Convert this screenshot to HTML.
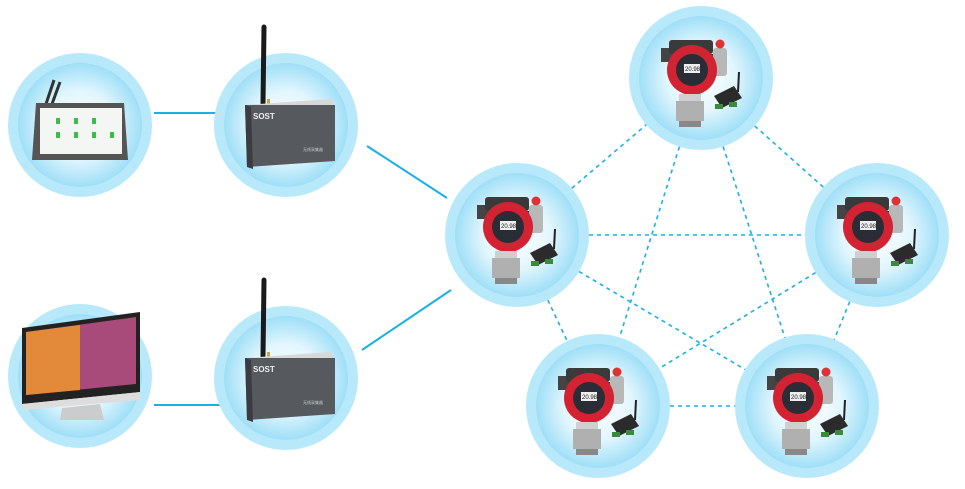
<!DOCTYPE html>
<html><head><meta charset="utf-8"><style>html,body{margin:0;padding:0;background:#fff;width:965px;height:489px;overflow:hidden}</style></head>
<body>
<svg width="965" height="489" viewBox="0 0 965 489" xmlns="http://www.w3.org/2000/svg" font-family="Liberation Sans, sans-serif">
<defs>
<radialGradient id="rg" cx="50%" cy="50%" r="50%">
<stop offset="0" stop-color="#ffffff"/><stop offset="0.55" stop-color="#e2f6fd"/><stop offset="1" stop-color="#9fdff7"/>
</radialGradient>
<g id="bub"><circle r="72" fill="#b8e9fa"/><circle r="62" fill="url(#rg)"/></g>
<g id="gw">
<line x1="-23" y1="-98" x2="-24" y2="-22" stroke="#1a1a1a" stroke-width="5" stroke-linecap="round"/>
<rect x="-20" y="-26" width="3" height="8" fill="#c9a54a"/>
<polygon points="-42,-20 44,-26 48,-18 -40,-12" fill="#d8d8d8"/>
<polygon points="-42,-20 48,-20 48,36 -40,42" fill="#56595e"/>
<polygon points="-42,-20 -36,-18 -34,44 -40,42" fill="#3a3c40"/>
<text x="-34" y="-6" font-size="8" font-weight="bold" fill="#eee">SOST</text>
<text x="16" y="26" font-size="4" fill="#ccc">无线采集器</text>
</g>
<g id="det">
<rect x="-40" y="-30" width="12" height="14" fill="#444"/>
<rect x="-32" y="-38" width="44" height="14" rx="3" fill="#3a3a3a"/>
<rect x="4" y="-24" width="12" height="10" fill="#444"/>
<rect x="12" y="-30" width="14" height="28" rx="3" fill="#b8b8b8"/>
<circle cx="19" cy="-34" r="4.5" fill="#d33"/>
<circle cx="-9" cy="-8" r="25" fill="#d32232"/>
<circle cx="-9" cy="-8" r="16" fill="#2a2d35"/>
<rect x="-17" y="-14" width="16" height="9" fill="#eee"/>
<text x="-16" y="-7" font-size="6" fill="#222">20.98</text>
<rect x="-22" y="16" width="22" height="7" fill="#cfcfcf"/>
<rect x="-25" y="23" width="28" height="20" fill="#b0b0b0"/>
<rect x="-22" y="43" width="22" height="6" fill="#888"/>
<line x1="38" y1="-6" x2="37" y2="14" stroke="#222" stroke-width="2"/>
<polygon points="13,18 33,8 41,20 21,30" fill="#2b2b2b"/>
<rect x="14" y="26" width="8" height="5" fill="#3a8a3a"/>
<rect x="28" y="24" width="8" height="5" fill="#3a8a3a"/>
</g>
</defs>

<g stroke="#1ab0e6" stroke-width="2" fill="none">
<line x1="154" y1="113" x2="225" y2="113"/>
<line x1="154" y1="405" x2="225" y2="405"/>
<line x1="367" y1="146" x2="447" y2="198"/>
<line x1="362" y1="350" x2="451" y2="290"/>
</g>
<g stroke="#1ab0e6" stroke-width="1.6" stroke-dasharray="4,4" fill="none">
<line x1="517" y1="235" x2="701" y2="78"/>
<line x1="517" y1="235" x2="877" y2="235"/>
<line x1="517" y1="235" x2="598" y2="406"/>
<line x1="517" y1="235" x2="807" y2="406"/>
<line x1="701" y1="78" x2="877" y2="235"/>
<line x1="701" y1="78" x2="598" y2="406"/>
<line x1="701" y1="78" x2="807" y2="406"/>
<line x1="877" y1="235" x2="598" y2="406"/>
<line x1="877" y1="235" x2="807" y2="406"/>
<line x1="598" y1="406" x2="807" y2="406"/>
</g>

<use href="#bub" x="80" y="125"/>
<use href="#bub" x="286" y="125"/>
<use href="#bub" x="80" y="376"/>
<use href="#bub" x="286" y="378"/>
<use href="#bub" x="701" y="78"/>
<use href="#bub" x="517" y="235"/>
<use href="#bub" x="877" y="235"/>
<use href="#bub" x="598" y="406"/>
<use href="#bub" x="807" y="406"/>

<!-- tablet -->
<g>
<line x1="46" y1="104" x2="54" y2="80" stroke="#333" stroke-width="3"/>
<line x1="52" y1="104" x2="60" y2="82" stroke="#333" stroke-width="3"/>
<polygon points="36,103 124,103 128,160 32,160" fill="#555"/>
<rect x="40" y="108" width="82" height="46" fill="#f4f6f4"/>
<g fill="#3bbd4a"><rect x="56" y="118" width="4" height="6"/><rect x="74" y="118" width="4" height="6"/><rect x="92" y="118" width="4" height="6"/><rect x="56" y="132" width="4" height="6"/><rect x="74" y="132" width="4" height="6"/><rect x="92" y="132" width="4" height="6"/><rect x="110" y="132" width="4" height="6"/></g>
</g>
<!-- computer -->
<g>
<polygon points="22,328 140,312 140,392 22,404" fill="#222"/>
<polygon points="26,332 136,317 136,384 26,395" fill="#a84a7a"/>
<polygon points="26,332 80,325 80,390 26,395" fill="#e28a3a"/>
<polygon points="22,404 140,392 140,400 22,410" fill="#ddd"/>
<polygon points="62,408 100,404 104,420 60,420" fill="#ccc"/>
</g>

<use href="#gw" x="287" y="125"/>
<use href="#gw" x="287" y="378"/>

<use href="#det" x="701" y="78"/>
<use href="#det" x="517" y="235"/>
<use href="#det" x="877" y="235"/>
<use href="#det" x="598" y="406"/>
<use href="#det" x="807" y="406"/>
</svg>
</body></html>
